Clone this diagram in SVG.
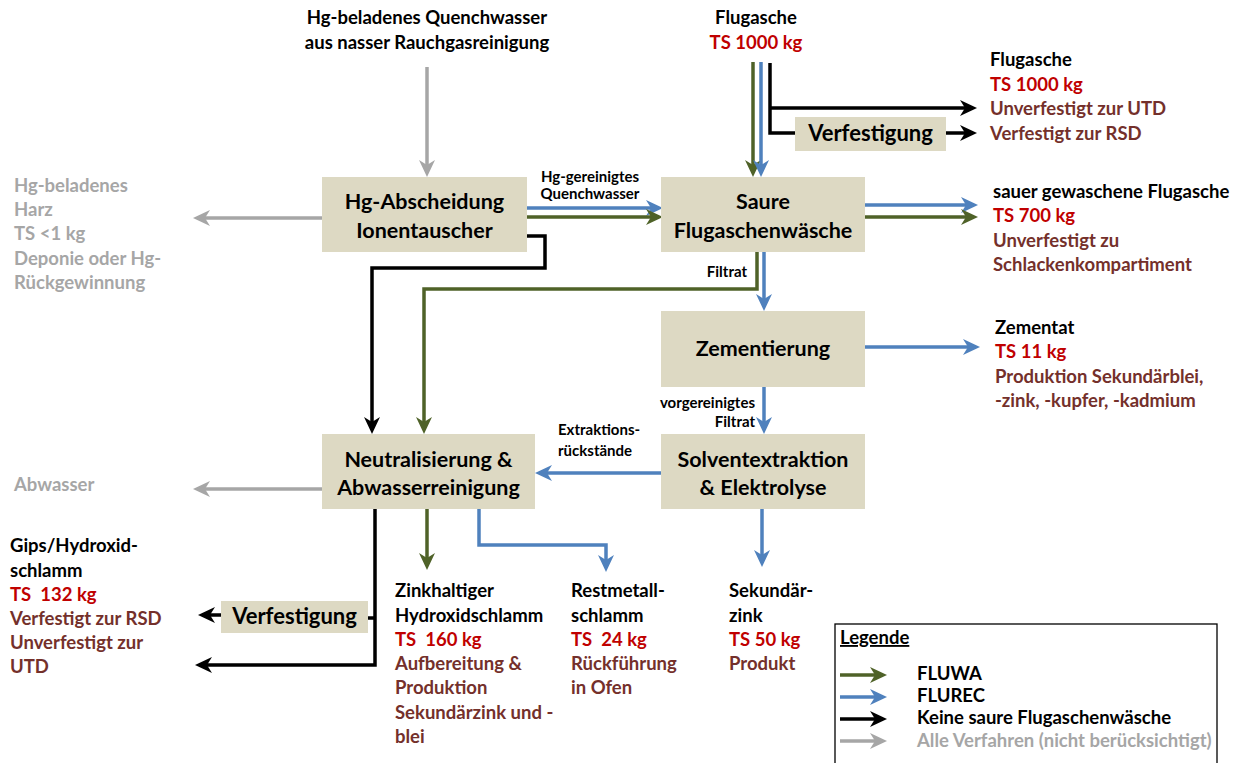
<svg xmlns="http://www.w3.org/2000/svg" width="1239" height="763" viewBox="0 0 1239 763">
<style>
text{font-family:Lato,"Liberation Sans",sans-serif;font-weight:bold}
.n{font-size:21.5px;fill:#000;text-anchor:middle}
.v{font-size:22px}
.t{font-size:18.5px;fill:#000}
.r{fill:#c00000}
.m{fill:#74302b}
.g{fill:#a6a6a6}
.s{font-size:15px;fill:#000}
.box{fill:#ddd9c3}
.c{fill:none;stroke-width:3.5}
.cg{stroke:#4f6228}
.cb{stroke:#4f81bd}
.ck{stroke:#000}
.cy{stroke:#a6a6a6}
</style>
<defs>
<marker id="ag" markerUnits="userSpaceOnUse" viewBox="0 0 17 16" refX="13" refY="8" markerWidth="17" markerHeight="16" orient="auto"><path d="M0,0 L17,8 L0,16 L5,8 z" fill="#4f6228"/></marker>
<marker id="ab" markerUnits="userSpaceOnUse" viewBox="0 0 17 16" refX="13" refY="8" markerWidth="17" markerHeight="16" orient="auto"><path d="M0,0 L17,8 L0,16 L5,8 z" fill="#4f81bd"/></marker>
<marker id="ak" markerUnits="userSpaceOnUse" viewBox="0 0 17 16" refX="13" refY="8" markerWidth="17" markerHeight="16" orient="auto"><path d="M0,0 L17,8 L0,16 L5,8 z" fill="#000"/></marker>
<marker id="ay" markerUnits="userSpaceOnUse" viewBox="0 0 17 16" refX="13" refY="8" markerWidth="17" markerHeight="16" orient="auto"><path d="M0,0 L17,8 L0,16 L5,8 z" fill="#a6a6a6"/></marker>
</defs>

<g id="connectors">
<path class="c cy" d="M427,67 V173" marker-end="url(#ay)"/>
<path class="c cg" d="M753,62 V173" marker-end="url(#ag)"/>
<path class="c cb" d="M761,62 V173" marker-end="url(#ab)"/>
<path class="c ck" d="M770,63 V133 H795"/>
<path class="c ck" d="M770,108 H973" marker-end="url(#ak)"/>
<path class="c ck" d="M946,133 H973" marker-end="url(#ak)"/>
<path class="c cb" d="M527,208 H659" marker-end="url(#ab)"/>
<path class="c cg" d="M527,217 H659" marker-end="url(#ag)"/>
<path class="c cb" d="M865,205 H974" marker-end="url(#ab)"/>
<path class="c cg" d="M865,217 H974" marker-end="url(#ag)"/>
<path class="c cy" d="M322,218 H197" marker-end="url(#ay)"/>
<path class="c ck" d="M527,236 H545 V268 H372 V430" marker-end="url(#ak)"/>
<path class="c cg" d="M757,252 V289 H424 V430" marker-end="url(#ag)"/>
<path class="c cb" d="M764,252 V307" marker-end="url(#ab)"/>
<path class="c cb" d="M865,347 H976" marker-end="url(#ab)"/>
<path class="c cb" d="M764,387 V430" marker-end="url(#ab)"/>
<path class="c cb" d="M661,473 H539" marker-end="url(#ab)"/>
<path class="c cy" d="M322,489 H197" marker-end="url(#ay)"/>
<path class="c ck" d="M375,509 V665 H199" marker-end="url(#ak)"/>
<path class="c ck" d="M375,618 H367"/>
<path class="c ck" d="M221,615 H202" marker-end="url(#ak)"/>
<path class="c cg" d="M427,509 V566" marker-end="url(#ag)"/>
<path class="c cb" d="M479,509 V545 H606 V568" marker-end="url(#ab)"/>
<path class="c cb" d="M762,509 V563" marker-end="url(#ab)"/>
</g>

<g id="n-hg">
<rect class="box" x="322" y="177" width="205" height="75"/>
<text class="n" x="424.5" y="209">Hg-Abscheidung</text>
<text class="n" x="424.5" y="238">Ionentauscher</text>
</g>
<g id="n-saure">
<rect class="box" x="661" y="177" width="204" height="75"/>
<text class="n" x="763" y="209">Saure</text>
<text class="n" x="763" y="238">Flugaschenwäsche</text>
</g>
<g id="n-zem">
<rect class="box" x="661" y="311" width="204" height="76"/>
<text class="n" x="763" y="356">Zementierung</text>
</g>
<g id="n-neut">
<rect class="box" x="322" y="434" width="213" height="75"/>
<text class="n" x="428.5" y="467">Neutralisierung &amp;</text>
<text class="n" x="428.5" y="495">Abwasserreinigung</text>
</g>
<g id="n-solv">
<rect class="box" x="661" y="434" width="204" height="75"/>
<text class="n" x="763" y="467">Solventextraktion</text>
<text class="n" x="763" y="495">&amp; Elektrolyse</text>
</g>
<g id="n-verf1">
<rect class="box" x="795" y="117" width="151" height="34"/>
<text class="n v" x="870.5" y="141">Verfestigung</text>
</g>
<g id="n-verf2">
<rect class="box" x="221" y="601" width="147" height="32"/>
<text class="n v" x="294.5" y="624">Verfestigung</text>
</g>

<g id="labels">
<text class="t" x="427" y="24" text-anchor="middle">Hg-beladenes Quenchwasser</text>
<text class="t" x="427" y="49" text-anchor="middle">aus nasser Rauchgasreinigung</text>
<text class="t" x="756" y="24" text-anchor="middle">Flugasche</text>
<text class="t r" x="756" y="49" text-anchor="middle">TS 1000 kg</text>

<text class="t" x="990" y="66">Flugasche</text>
<text class="t r" x="990" y="91">TS 1000 kg</text>
<text class="t m" x="990" y="115">Unverfestigt zur UTD</text>
<text class="t m" x="990" y="140">Verfestigt zur RSD</text>

<text class="t" x="993" y="198">sauer gewaschene Flugasche</text>
<text class="t r" x="993" y="222">TS 700 kg</text>
<text class="t m" x="993" y="247">Unverfestigt zu</text>
<text class="t m" x="993" y="271">Schlackenkompartiment</text>

<text class="t" x="995" y="334">Zementat</text>
<text class="t r" x="995" y="358">TS 11 kg</text>
<text class="t m" x="995" y="383">Produktion Sekundärblei,</text>
<text class="t m" x="995" y="407">-zink, -kupfer, -kadmium</text>

<text class="t g" x="14" y="192">Hg-beladenes</text>
<text class="t g" x="14" y="216">Harz</text>
<text class="t g" x="14" y="240">TS &lt;1 kg</text>
<text class="t g" x="14" y="265">Deponie oder Hg-</text>
<text class="t g" x="14" y="289">Rückgewinnung</text>

<text class="t g" x="14" y="491">Abwasser</text>

<text class="t" x="10" y="552">Gips/Hydroxid-</text>
<text class="t" x="10" y="577">schlamm</text>
<text class="t r" x="10" y="601" xml:space="preserve">TS  132 kg</text>
<text class="t m" x="10" y="625">Verfestigt zur RSD</text>
<text class="t m" x="10" y="649">Unverfestigt zur</text>
<text class="t m" x="10" y="673">UTD</text>

<text class="t" x="395" y="597">Zinkhaltiger</text>
<text class="t" x="395" y="622">Hydroxidschlamm</text>
<text class="t r" x="395" y="646" xml:space="preserve">TS  160 kg</text>
<text class="t m" x="395" y="670">Aufbereitung &amp;</text>
<text class="t m" x="395" y="694">Produktion</text>
<text class="t m" x="395" y="719">Sekundärzink und -</text>
<text class="t m" x="395" y="743">blei</text>

<text class="t" x="571" y="597">Restmetall-</text>
<text class="t" x="571" y="622">schlamm</text>
<text class="t r" x="571" y="646" xml:space="preserve">TS  24 kg</text>
<text class="t m" x="571" y="670">Rückführung</text>
<text class="t m" x="571" y="694">in Ofen</text>

<text class="t" x="729" y="597">Sekundär-</text>
<text class="t" x="729" y="622">zink</text>
<text class="t r" x="729" y="646">TS 50 kg</text>
<text class="t m" x="729" y="670">Produkt</text>

<text class="s" x="590" y="182" text-anchor="middle">Hg-gereinigtes</text>
<text class="s" x="590" y="199" text-anchor="middle">Quenchwasser</text>
<text class="s" x="747" y="277" text-anchor="end">Filtrat</text>
<text class="s" x="755" y="408" text-anchor="end">vorgereinigtes</text>
<text class="s" x="755" y="427" text-anchor="end">Filtrat</text>
<text class="s" x="558" y="435">Extraktions-</text>
<text class="s" x="558" y="456">rückstände</text>
</g>

<g id="legend">
<rect x="835" y="624" width="382" height="150" fill="#fff" stroke="#000" stroke-width="1.3"/>
<text class="t" x="840" y="644" text-decoration="underline">Legende</text>
<path class="c cg" d="M840,675 H883" marker-end="url(#ag)"/>
<path class="c cb" d="M840,697 H883" marker-end="url(#ab)"/>
<path class="c ck" d="M840,719 H883" marker-end="url(#ak)"/>
<path class="c cy" d="M840,741 H883" marker-end="url(#ay)"/>
<text class="t" x="917" y="680">FLUWA</text>
<text class="t" x="917" y="702">FLUREC</text>
<text class="t" x="917" y="724">Keine saure Flugaschenwäsche</text>
<text class="t g" x="917" y="747">Alle Verfahren (nicht berücksichtigt)</text>
</g>
</svg>
